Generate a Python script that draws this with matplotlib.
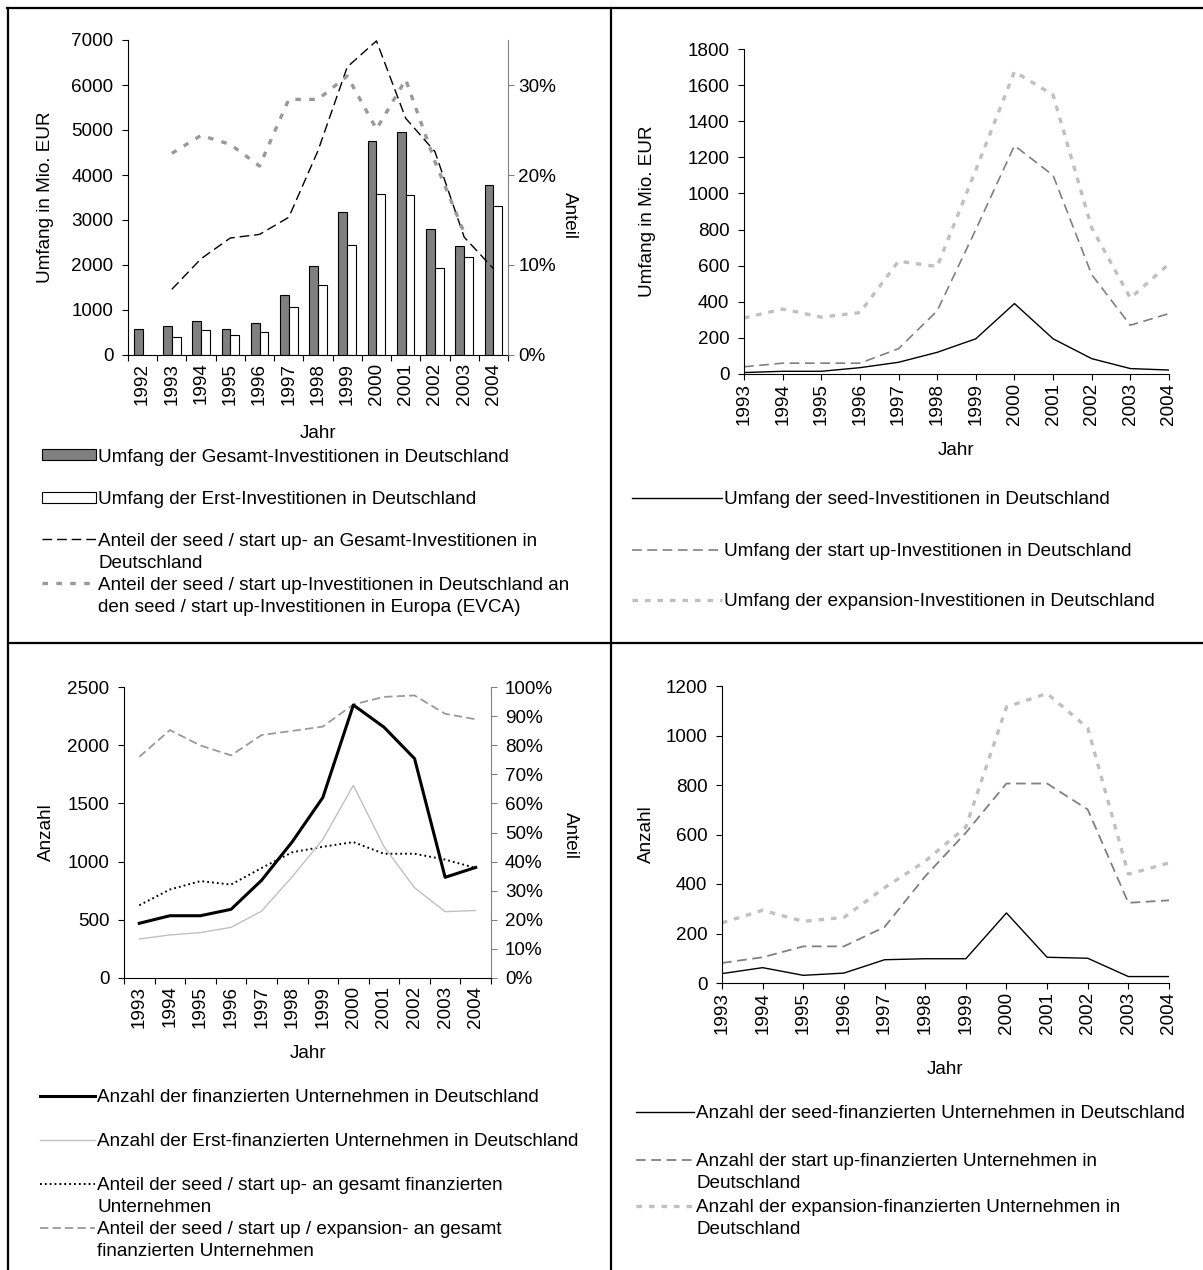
import numpy as np
import matplotlib
matplotlib.use("Agg")
import matplotlib.pyplot as plt
from matplotlib.lines import Line2D
from matplotlib.ticker import FuncFormatter

# ---------------- data ----------------
years_tl = [1992, 1993, 1994, 1995, 1996, 1997, 1998, 1999, 2000, 2001, 2002, 2003, 2004]
gesamt_inv = [580, 640, 760, 580, 700, 1330, 1970, 3170, 4750, 4950, 2800, 2430, 3780]
erst_inv = [np.nan, 410, 550, 440, 500, 1070, 1560, 2450, 3580, 3550, 1940, 2170, 3320]
years_de = [1993, 1994, 1995, 1996, 1997, 1998, 1999, 2000, 2001, 2002, 2003, 2004]
anteil_de = [7.3, 10.7, 13.0, 13.4, 15.3, 22.7, 32.0, 34.9, 26.3, 22.6, 13.1, 9.6]
years_eu = [1993, 1994, 1995, 1996, 1997, 1998, 1999, 2000, 2001, 2002, 2003]
anteil_eu = [22.4, 24.4, 23.4, 21.0, 28.4, 28.4, 31.0, 25.1, 30.6, 21.5, 13.6]

years = [1993, 1994, 1995, 1996, 1997, 1998, 1999, 2000, 2001, 2002, 2003, 2004]
seed_umfang = [8, 15, 15, 35, 65, 120, 195, 390, 195, 85, 30, 22]
startup_umfang = [40, 60, 60, 60, 140, 350, 800, 1265, 1100, 550, 270, 335]
expansion_umfang = [310, 360, 315, 340, 625, 595, 1130, 1675, 1545, 810, 420, 610]

anzahl_gesamt = [470, 535, 535, 590, 840, 1170, 1550, 2345, 2155, 1885, 865, 950]
anzahl_erst = [335, 370, 390, 435, 575, 870, 1190, 1655, 1130, 775, 570, 580]
anteil_seed_startup = [25.0, 30.4, 33.3, 32.1, 37.8, 43.2, 45.1, 46.7, 42.7, 42.7, 40.7, 37.8]
anteil_sse = [76.0, 85.2, 79.9, 76.5, 83.5, 84.9, 86.4, 94.0, 96.6, 97.1, 90.8, 88.9]

seed_anzahl = [38, 62, 31, 40, 94, 98, 98, 283, 104, 100, 26, 26]
startup_anzahl = [81, 104, 148, 148, 226, 431, 607, 806, 806, 701, 324, 334]
expansion_anzahl = [243, 294, 249, 265, 385, 492, 630, 1115, 1170, 1030, 440, 485]

# ---------------- setup ----------------
W, H, DPI = 1203, 1270, 100
FS = 13.6
plt.rcParams['font.family'] = ['Liberation Sans', 'DejaVu Sans']
plt.rcParams['font.size'] = FS
plt.rcParams['lines.scale_dashes'] = False
plt.rcParams['axes.linewidth'] = 0.8
plt.rcParams['xtick.major.width'] = 0.8
plt.rcParams['ytick.major.width'] = 0.8

fig = plt.figure(figsize=(W / DPI, H / DPI), dpi=DPI)
FSPX = FS * DPI / 72.0


def rect(x0, y0, x1, y1):
    return [x0 / W, 1 - y1 / H, (x1 - x0) / W, (y1 - y0) / H]


def fx(x):
    return x / W


def fy(y):
    return 1 - y / H


def style_axes(ax):
    for s in ['top', 'right']:
        ax.spines[s].set_visible(False)
    ax.tick_params(axis='both', direction='out', length=4.5, labelsize=FS)
    ax.tick_params(axis='y', pad=6.0)
    ax.tick_params(axis='x', pad=1.5)


pct = FuncFormatter(lambda v, p: f"{v:.0f}%")


def legend_entry(handle, lines, xh0, xh1, xt, y, dy=22):
    hl = (xh1 - xh0) / FSPX
    pad = (xt - xh1) / FSPX
    fig.legend([handle], [lines[0]], loc='center left',
               bbox_to_anchor=(fx(xh0), fy(y)), frameon=False,
               borderpad=0, borderaxespad=0, handlelength=hl,
               handletextpad=pad, handleheight=0.5, fontsize=FS)
    for i, t in enumerate(lines[1:]):
        fig.text(fx(xt), fy(y + dy * (i + 1)), t, ha='left', va='center', fontsize=FS)


# ---------------- frame lines ----------------
frame_kw = dict(color='black', linewidth=1.6, transform=fig.transFigure)
fig.add_artist(Line2D([fx(8), fx(8)], [fy(8), fy(1272)], **frame_kw))
fig.add_artist(Line2D([fx(7), fx(1205)], [fy(8), fy(8)], **frame_kw))
fig.add_artist(Line2D([fx(611), fx(611)], [fy(8), fy(1272)], **frame_kw))
fig.add_artist(Line2D([fx(8), fx(1205)], [fy(643), fy(643)], **frame_kw))

# ---------------- top-left ----------------
ax1 = fig.add_axes(rect(128, 40, 508, 355))
style_axes(ax1)
idx = np.arange(len(years_tl))
bw = 0.3
b1 = ax1.bar(idx - bw / 2, gesamt_inv, width=bw, color='#808080', edgecolor='black', linewidth=0.8)
b2 = ax1.bar(idx + bw / 2, erst_inv, width=bw, color='white', edgecolor='black', linewidth=0.8)
ax1.set_xlim(-0.5, len(years_tl) - 0.5)
ax1.set_ylim(0, 7000)
ax1.set_yticks(np.arange(0, 7001, 1000))
ax1.set_xticks(np.arange(-0.5, len(years_tl)), labels=[])
ax1.set_xticks(idx, labels=[str(y) for y in years_tl], minor=True, rotation=90)
ax1.tick_params(axis='x', which='minor', length=0, pad=5.5, labelsize=FS)

ax1b = ax1.twinx()
ax1b.set_ylim(0, 35)
ax1b.set_yticks([0, 10, 20, 30])
ax1b.yaxis.set_major_formatter(pct)
for s in ['top', 'left', 'bottom']:
    ax1b.spines[s].set_visible(False)
ax1b.spines['right'].set_color('#808080')
ax1b.tick_params(axis='y', direction='out', length=4.5, color='#808080', pad=3.0, labelsize=FS)
x_de = [years_tl.index(y) for y in years_de]
x_eu = [years_tl.index(y) for y in years_eu]
l_de, = ax1b.plot(x_de, anteil_de, color='black', linewidth=1.0, dashes=(7, 3.5))
l_eu, = ax1b.plot(x_eu, anteil_eu, color='#999999', linewidth=2.4, dashes=(4, 6))

fig.text(fx(46), fy(197), 'Umfang in Mio. EUR', rotation=90, ha='center', va='center', fontsize=FS)
fig.text(fx(569), fy(216), 'Anteil', rotation=270, ha='center', va='center', fontsize=FS)
fig.text(fx(318), fy(433), 'Jahr', ha='center', va='center', fontsize=FS)

legend_entry(b1, ['Umfang der Gesamt-Investitionen in Deutschland'], 42, 96, 98, 457)
legend_entry(b2, ['Umfang der Erst-Investitionen in Deutschland'], 42, 96, 98, 500)
legend_entry(l_de, ['Anteil der seed / start up- an Gesamt-Investitionen in', 'Deutschland'], 42, 96, 98, 541)
legend_entry(l_eu, ['Anteil der seed / start up-Investitionen in Deutschland an',
                    'den seed / start up-Investitionen in Europa (EVCA)'], 42, 96, 98, 585)

# ---------------- top-right ----------------
ax2 = fig.add_axes(rect(744, 49, 1169, 374))
style_axes(ax2)
s1, = ax2.plot(years, seed_umfang, color='black', linewidth=1.0)
s2, = ax2.plot(years, startup_umfang, color='#808080', linewidth=1.2, dashes=(7, 4))
s3, = ax2.plot(years, expansion_umfang, color='#c0c0c0', linewidth=2.4, dashes=(4, 5))
ax2.set_xlim(years[0], years[-1])
ax2.set_ylim(0, 1800)
ax2.set_yticks(np.arange(0, 1801, 200))
ax2.set_xticks(years, labels=[str(y) for y in years], rotation=90)
ax2.tick_params(axis='x', pad=2)
fig.text(fx(647), fy(211), 'Umfang in Mio. EUR', rotation=90, ha='center', va='center', fontsize=FS)
fig.text(fx(956), fy(451), 'Jahr', ha='center', va='center', fontsize=FS)

legend_entry(s1, ['Umfang der seed-Investitionen in Deutschland'], 632, 722, 724, 500)
legend_entry(s2, ['Umfang der start up-Investitionen in Deutschland'], 632, 722, 724, 552)
legend_entry(s3, ['Umfang der expansion-Investitionen in Deutschland'], 632, 722, 724, 602)

# ---------------- bottom-left ----------------
ax3 = fig.add_axes(rect(124, 687, 491, 978))
style_axes(ax3)
idx3 = np.arange(len(years))
a1, = ax3.plot(idx3, anzahl_gesamt, color='black', linewidth=2.2)
a2, = ax3.plot(idx3, anzahl_erst, color='#c0c0c0', linewidth=1.0)
ax3.set_xlim(-0.5, len(years) - 0.5)
ax3.set_ylim(0, 2500)
ax3.set_yticks(np.arange(0, 2501, 500))
ax3.set_xticks(np.arange(-0.5, len(years)), labels=[])
ax3.set_xticks(idx3, labels=[str(y) for y in years], minor=True, rotation=90)
ax3.tick_params(axis='x', which='minor', length=0, pad=5.5, labelsize=FS)

ax3b = ax3.twinx()
ax3b.set_ylim(0, 100)
ax3b.set_yticks(np.arange(0, 101, 10))
ax3b.yaxis.set_major_formatter(pct)
for s in ['top', 'left', 'bottom']:
    ax3b.spines[s].set_visible(False)
ax3b.spines['right'].set_color('#808080')
ax3b.tick_params(axis='y', direction='out', length=4.5, color='#808080', pad=5.5, labelsize=FS)
a3, = ax3b.plot(idx3, anteil_seed_startup, color='black', linewidth=1.4, dashes=(1.3, 2.2))
a4, = ax3b.plot(idx3, anteil_sse, color='#999999', linewidth=1.3, dashes=(6, 3))
ax3b.set_zorder(ax3.get_zorder() - 1)
ax3.patch.set_visible(False)

fig.text(fx(46), fy(832), 'Anzahl', rotation=90, ha='center', va='center', fontsize=FS)
fig.text(fx(570), fy(835), 'Anteil', rotation=270, ha='center', va='center', fontsize=FS)
fig.text(fx(308), fy(1054), 'Jahr', ha='center', va='center', fontsize=FS)

legend_entry(a1, ['Anzahl der finanzierten Unternehmen in Deutschland'], 40, 95, 97, 1098)
legend_entry(a2, ['Anzahl der Erst-finanzierten Unternehmen in Deutschland'], 40, 95, 97, 1142)
legend_entry(a3, ['Anteil der seed / start up- an gesamt finanzierten', 'Unternehmen'], 40, 95, 97, 1186)
legend_entry(a4, ['Anteil der seed / start up / expansion- an gesamt', 'finanzierten Unternehmen'], 40, 95, 97, 1230)

# ---------------- bottom-right ----------------
ax4 = fig.add_axes(rect(722, 686, 1169, 983))
style_axes(ax4)
n1, = ax4.plot(years, seed_anzahl, color='black', linewidth=1.0)
n2, = ax4.plot(years, startup_anzahl, color='#808080', linewidth=1.3, dashes=(7, 4))
n3, = ax4.plot(years, expansion_anzahl, color='#c0c0c0', linewidth=2.4, dashes=(4, 5))
ax4.set_xlim(years[0], years[-1])
ax4.set_ylim(0, 1200)
ax4.set_yticks(np.arange(0, 1201, 200))
ax4.set_xticks(years, labels=[str(y) for y in years], rotation=90)
ax4.tick_params(axis='x', pad=2)
fig.text(fx(646), fy(834), 'Anzahl', rotation=90, ha='center', va='center', fontsize=FS)
fig.text(fx(945), fy(1069), 'Jahr', ha='center', va='center', fontsize=FS)

legend_entry(n1, ['Anzahl der seed-finanzierten Unternehmen in Deutschland'], 636, 694, 696, 1114)
legend_entry(n2, ['Anzahl der start up-finanzierten Unternehmen in', 'Deutschland'], 636, 694, 696, 1162)
legend_entry(n3, ['Anzahl der expansion-finanzierten Unternehmen in', 'Deutschland'], 636, 694, 696, 1208)

fig.savefig('out.png', dpi=DPI)
